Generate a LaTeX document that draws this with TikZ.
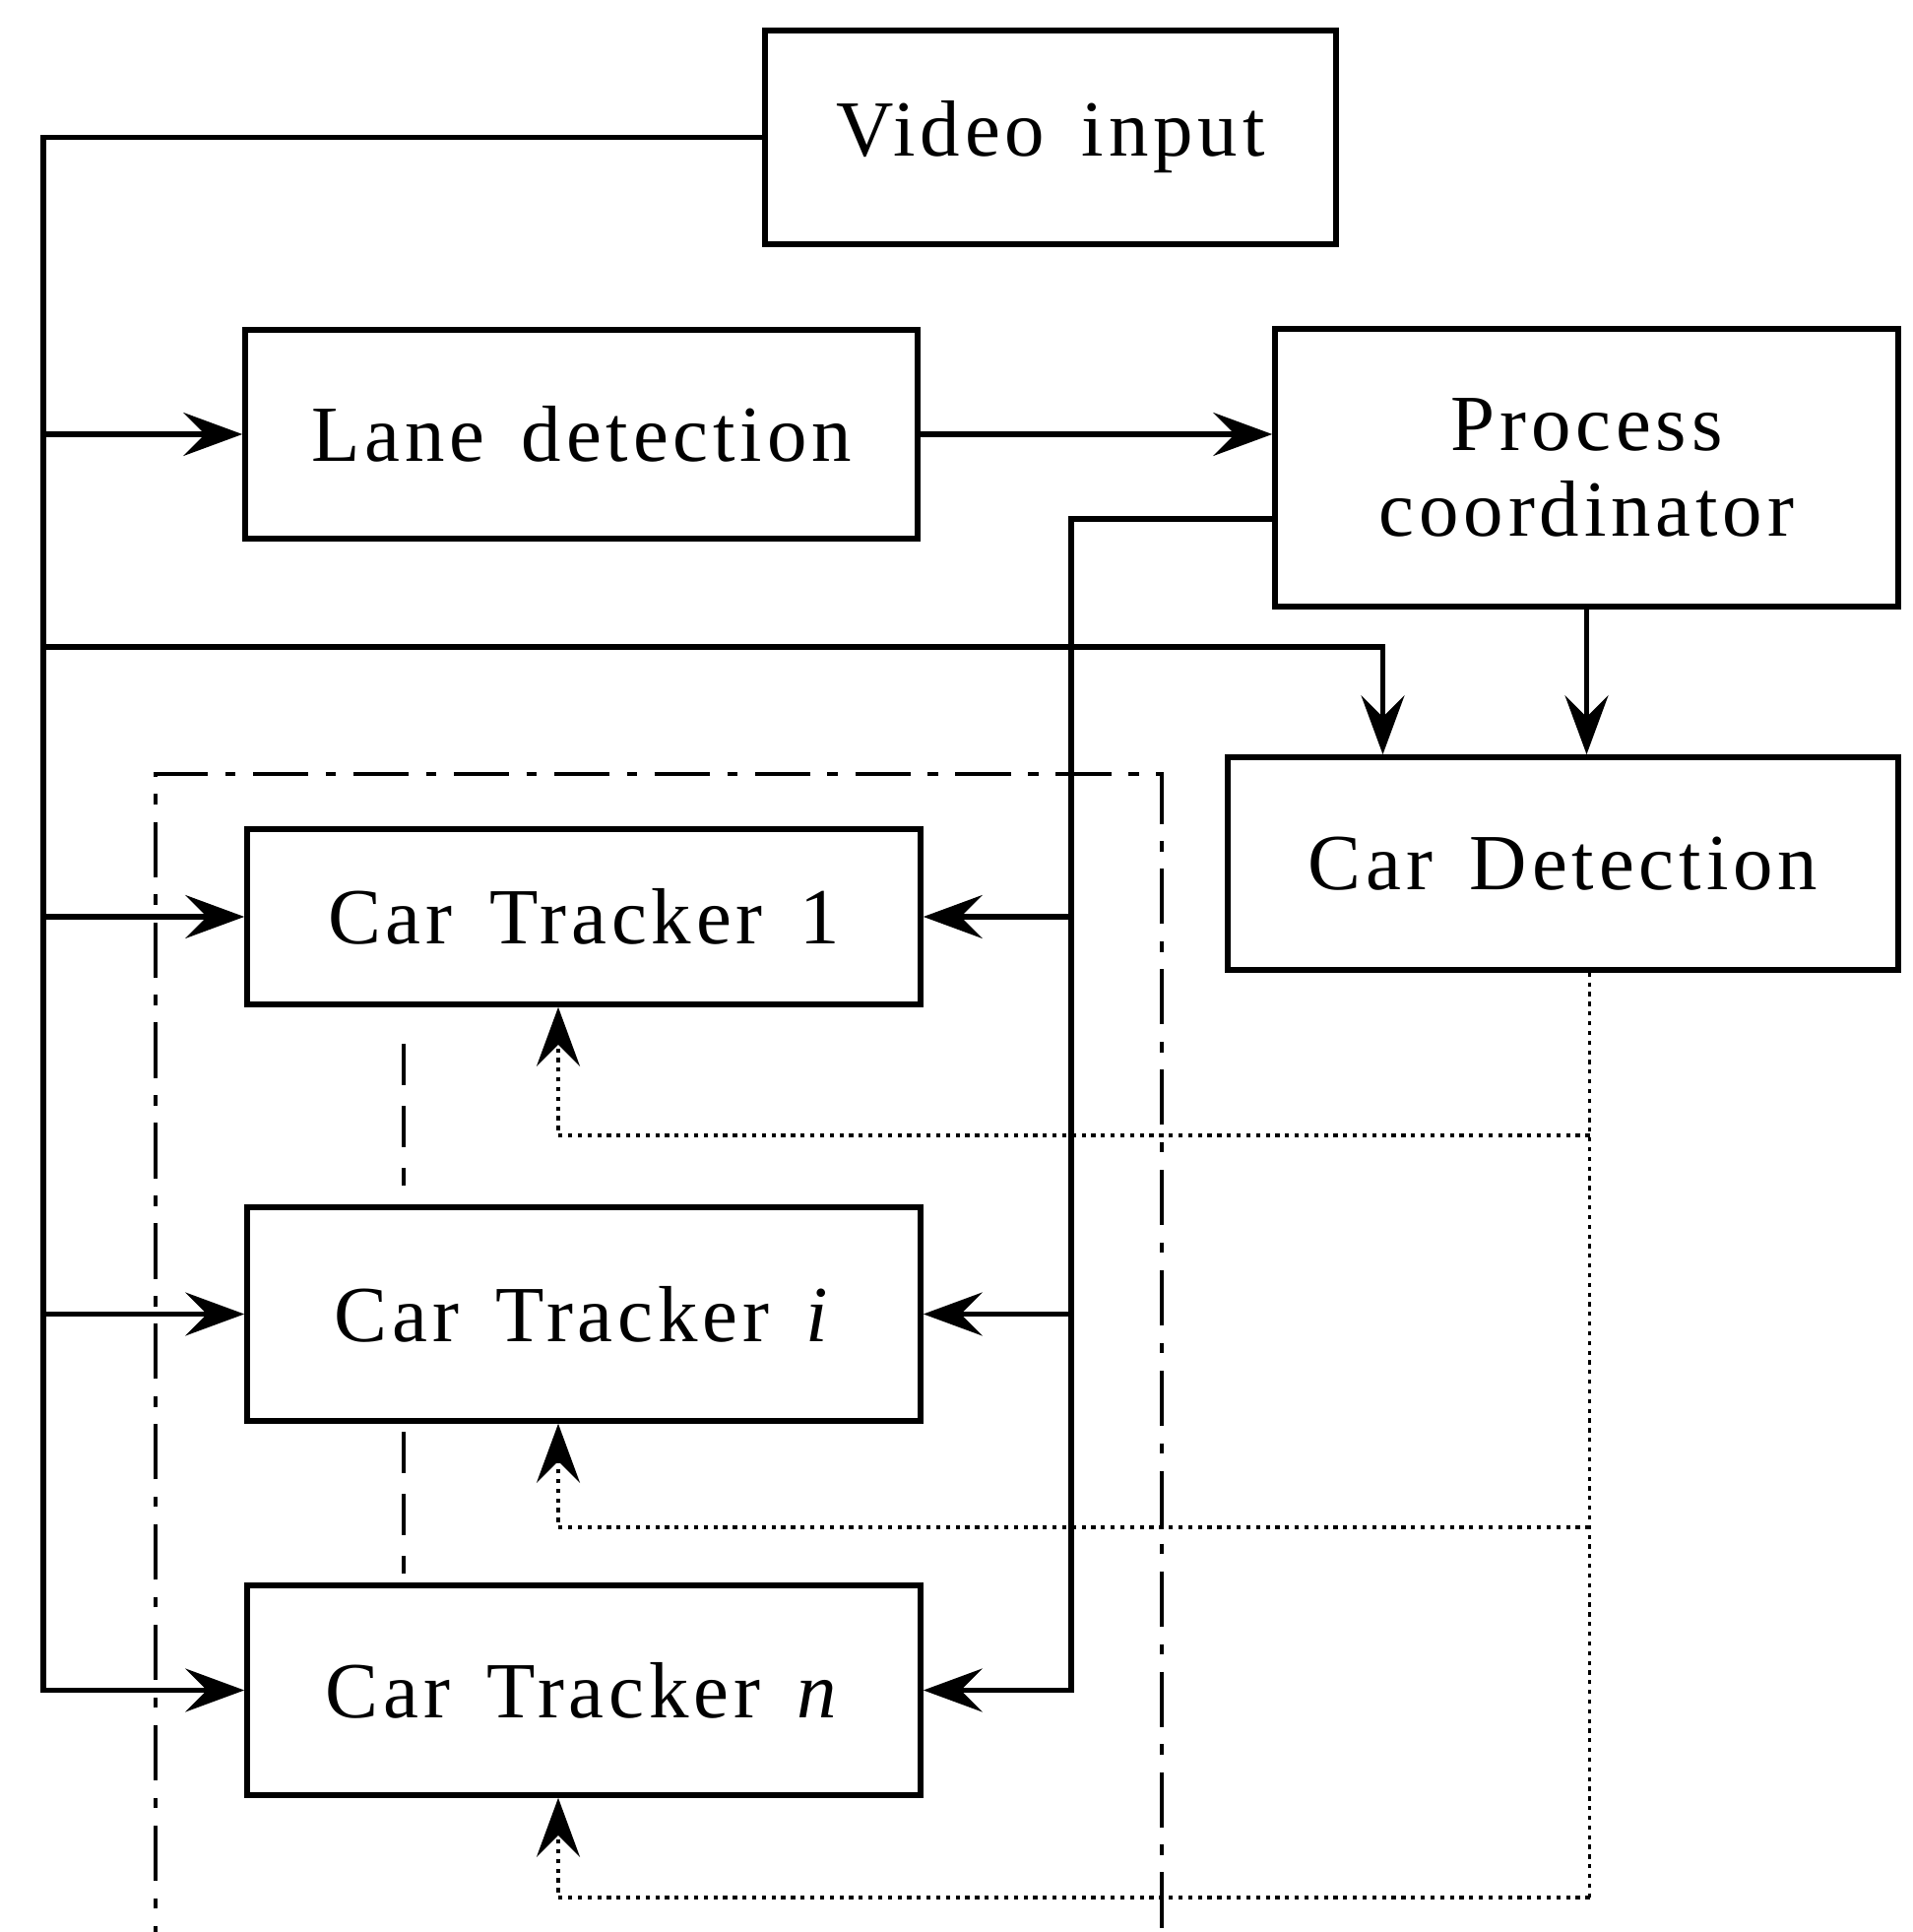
\documentclass[tikz,border=0pt]{standalone}
\usepackage{fontspec}
\setmainfont{Liberation Serif}[LetterSpace=6, WordSpace=1.5]
\usetikzlibrary{arrows.meta, positioning, calc}

\begin{document}
\begin{tikzpicture}[
  blk/.style={draw, line width=1.6pt, inner sep=0pt, align=center,
    font=\fontsize{23}{25}\selectfont},
  wire/.style={line width=1.6pt},
  arr/.style={wire, -{Stealth[length=6mm, width=4.4mm, inset=2.2mm]}},
  fbline/.style={line width=1pt, dash pattern=on 1.2pt off 1.6pt},
  fb/.style={fbline, -{Stealth[length=6mm, width=4.4mm, inset=2.2mm]}},
  grp/.style={line width=1.3pt, dash pattern=on 16pt off 5pt on 3pt off 5pt},
  link/.style={line width=1.3pt, dash pattern=on 12pt off 6pt}
]
\useasboundingbox (0,0) rectangle (19.43,19.62);
\clip (0,0) rectangle (19.43,19.62);

% blocks
\node[blk, minimum width=5.8cm, minimum height=2.17cm] (vid) at (10.67,18.225) {Video input};
\node[blk, minimum width=6.83cm, minimum height=2.12cm] (lane) at (5.905,15.21) {Lane detection};
\node[blk, minimum width=6.33cm, minimum height=2.82cm] (proc) at (16.115,14.87) {Process\\coordinator};
\node[blk, minimum width=6.81cm, minimum height=2.16cm] (det) at (15.875,10.85) {Car Detection};
\node[blk, minimum width=6.84cm, minimum height=1.78cm] (trk1) at (5.93,10.31) {Car Tracker 1};
\node[blk, minimum width=6.84cm, minimum height=2.17cm] (trki) at (5.93,6.275) {Car Tracker \textit{i}};
\node[blk, minimum width=6.84cm, minimum height=2.13cm] (trkn) at (5.93,2.455) {Car Tracker \textit{n}};

% tracker group
\draw[grp] (1.58,-0.5) -- (1.58,11.76) -- (11.80,11.76) -- (11.80,-0.5);
\draw[link] ([xshift=-1.83cm,yshift=-0.37cm]trk1.south) -- ([xshift=-1.83cm,yshift=0.19cm]trki.north);
\draw[link] ([xshift=-1.83cm,yshift=-0.08cm]trki.south) -- ([xshift=-1.83cm,yshift=0.09cm]trkn.north);

% video bus on the left
\coordinate (bus) at (0.44,0);
\draw[arr] (vid.west) -| (bus |- trkn.west) -- (trkn.west);
\foreach \t in {lane,trk1,trki}
  \draw[arr] (bus |- \t.west) -- (\t.west);
\coordinate (split) at (0.44,13.05);
\coordinate (dIn) at ([xshift=-1.83cm]det.north);
\draw[arr] (split) -| (dIn);

\draw[arr] (lane.east) -- (lane.east -| proc.west);
\draw[arr] (proc.south) -- (proc.south |- det.north);

% coordinator to trackers
\coordinate (feed) at (10.88,14.35);
\draw[arr] (proc.west |- feed) -- (feed) |- (trkn.east);
\foreach \t in {trk1,trki}
  \draw[arr] (feed |- \t.east) -- (\t.east);

% detections back to trackers
\coordinate (dOut) at ([xshift=0.27cm]det.south);
\draw[fbline] (dOut) -- (dOut |- 0,0.35);
\foreach \t/\y in {trk1/8.09, trki/4.11, trkn/0.35} {
  \coordinate (fb\t) at ([xshift=-0.26cm]\t.south);
  \draw[fb] (dOut |- 0,\y) -| (fb\t);
}
\end{tikzpicture}
\end{document}
